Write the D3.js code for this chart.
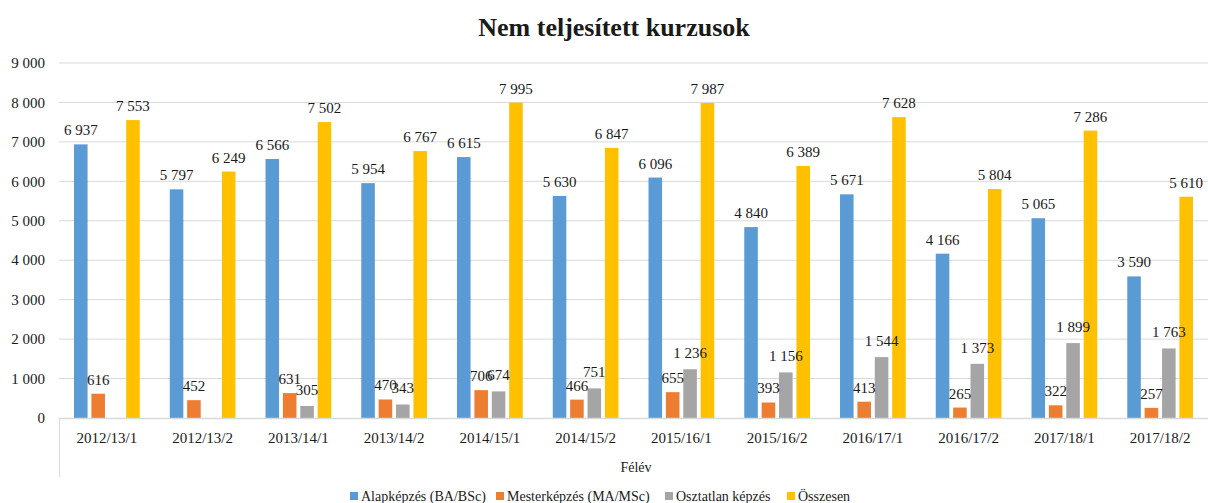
<!DOCTYPE html>
<html><head><meta charset="utf-8">
<script src="https://cdn.jsdelivr.net/npm/d3@7"></script>
<style>body{margin:0;background:#fff}svg{display:block}text{font-family:"Liberation Serif","DejaVu Serif",serif;fill:#1a1a1a}</style>
</head><body>
<svg id="c" width="1208" height="503"></svg>
<script>
const categories = ["2012/13/1","2012/13/2","2013/14/1","2013/14/2","2014/15/1","2014/15/2","2015/16/1","2015/16/2","2016/17/1","2016/17/2","2017/18/1","2017/18/2"];
const seriesNames = ["Alapképzés (BA/BSc)","Mesterképzés (MA/MSc)","Osztatlan képzés","Összesen"];
const alapkepzes = [6937,5797,6566,5954,6615,5630,6096,4840,5671,4166,5065,3590];
const mesterkepzes = [616,452,631,470,706,466,655,393,413,265,322,257];
const osztatlan = [null,null,305,343,674,751,1236,1156,1544,1373,1899,1763];
const osszesen = [7553,6249,7502,6767,7995,6847,7987,6389,7628,5804,7286,5610];
const yTicks = [0,1000,2000,3000,4000,5000,6000,7000,8000,9000];
const colors = ["#5B9BD5","#ED7D31","#A5A5A5","#FFC000"];
const seriesValues = [alapkepzes, mesterkepzes, osztatlan, osszesen];

const svg = d3.select("#c");
const fmt = v => d3.format(",")(v).replace(/,/g, " ");

const x = d3.scaleBand().domain(categories).range([59, 1208]).padding(0);
const inner = d3.scaleBand().domain(seriesNames).range([-34.6, 34.6]).paddingInner(0.22).paddingOuter(0.1);
const y = d3.scaleLinear().domain([0, 9000]).range([418, 63]);

// gridlines
svg.append("g").selectAll("line").data(yTicks.filter(d => d > 0)).join("line")
  .attr("x1", 59).attr("x2", 1208).attr("y1", d => y(d)).attr("y2", d => y(d))
  .attr("stroke", "#d9d9d9").attr("stroke-width", 1);

// y tick labels
svg.append("g").selectAll("text").data(yTicks).join("text")
  .attr("x", 45).attr("y", d => y(d)).attr("dy", "0.35em")
  .attr("text-anchor", "end").attr("font-size", 15).text(d => fmt(d));

const flat = [];
seriesNames.forEach((s, si) => {
  categories.forEach((c, i) => {
    const v = seriesValues[si][i];
    if (v != null) flat.push({s, si, c, v});
  });
});

// bars
svg.append("g").selectAll("rect").data(flat).join("rect")
  .attr("x", d => x(d.c) + x.bandwidth() / 2 + inner(d.s))
  .attr("width", inner.bandwidth())
  .attr("y", d => y(d.v))
  .attr("height", d => y(0) - y(d.v))
  .attr("fill", d => colors[d.si]);

// axis lines
svg.append("line").attr("x1", 59).attr("x2", 1208).attr("y1", y(0) + 0.5).attr("y2", y(0) + 0.5)
  .attr("stroke", "#d9d9d9").attr("stroke-width", 1.5);
svg.append("line").attr("x1", 59.5).attr("x2", 59.5).attr("y1", y(0)).attr("y2", 477)
  .attr("stroke", "#d9d9d9").attr("stroke-width", 1);

// data labels (on top of all bars)
svg.append("g").selectAll("text").data(flat).join("text")
  .attr("x", d => x(d.c) + x.bandwidth() / 2 + inner(d.s) + inner.bandwidth() / 2)
  .attr("y", d => y(d.v) - (d.si === 2 ? 11 : 9))
  .attr("text-anchor", "middle").attr("font-size", 15)
  .text(d => fmt(d.v));

// category labels
svg.append("g").selectAll("text").data(categories).join("text")
  .attr("x", d => x(d) + x.bandwidth() / 2).attr("y", 443)
  .attr("text-anchor", "middle").attr("font-size", 15).text(d => d);

// axis title
svg.append("text").attr("x", 636).attr("y", 472).attr("text-anchor", "middle")
  .attr("font-size", 14).text("Félév");

// title
svg.append("text").attr("x", 614).attr("y", 36).attr("text-anchor", "middle")
  .attr("font-size", 26).attr("font-weight", "bold").text("Nem teljesített kurzusok");

// legend
const legendX = [350, 496, 665, 787];
const lg = svg.append("g").selectAll("g").data(seriesNames).join("g")
  .attr("transform", (d, i) => `translate(${legendX[i]},496)`);
lg.append("rect").attr("x", 0).attr("y", -4).attr("width", 8).attr("height", 8)
  .attr("fill", (d, i) => colors[i]);
lg.append("text").attr("x", 11).attr("y", 0).attr("dy", "0.35em").attr("font-size", 14).text(d => d);
</script>
</body></html>
